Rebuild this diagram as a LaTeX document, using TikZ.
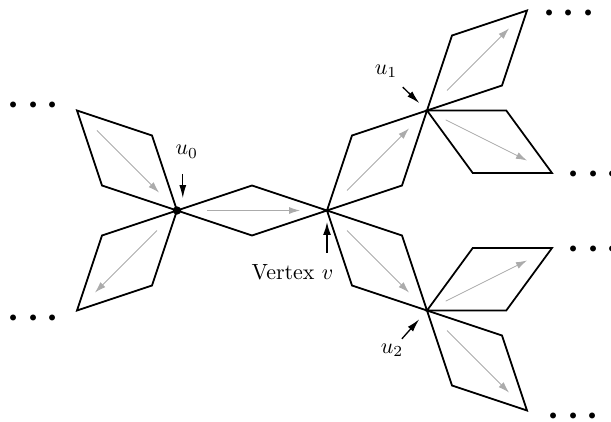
\documentclass[tikz,border=0pt]{standalone}
\usetikzlibrary{arrows.meta, calc, positioning}

\begin{document}
\begin{tikzpicture}[
    x=0.4cm, y=0.4cm,
    rhomb/.style={draw, thick},
    flow/.style={draw=black!33, -{Latex[length=5pt, width=3.2pt]}},
    pointer/.style={semithick, -{Latex[length=6pt, width=3.2pt]}},
    bigpointer/.style={line width=0.9pt, -{Latex[length=6pt, width=3.6pt]}},
    tag/.style={inner sep=1pt},
    etc/.style={anchor=base, yshift=-4.75pt, font=\fontsize{19}{19}\selectfont\boldmath}
]
    \useasboundingbox (-7.08,-8.42) rectangle (17.36,8.42);

    % ================= VERTICES =================
    \coordinate (u0) at (0,0);
    \coordinate (v) at (6,0);
    \coordinate (u1) at (10,4);
    \coordinate (u2) at (10,-4);

    % ================= RHOMBI =================
    \draw[rhomb] (u0) -- ++(-1,3) -- ++(-3,1) coordinate (p1) -- ++(1,-3) -- cycle;
    \draw[rhomb] (u0) -- ++(-3,-1) -- ++(-1,-3) coordinate (p2) -- ++(3,1) -- cycle;
    \draw[rhomb] (u0) -- ++(3,1) -- (v) -- ++(-3,-1) -- cycle;
    \draw[rhomb] (v) -- ++(1,3) -- (u1) -- ++(-1,-3) -- cycle;
    \draw[rhomb] (v) -- ++(3,-1) -- (u2) -- ++(-3,1) -- cycle;
    \draw[rhomb] (u1) -- ++(1,3) -- ++(3,1) coordinate (p3) -- ++(-1,-3) -- cycle;
    \draw[rhomb] (u1) -- ++(3.17,0) -- ++(1.83,-2.5) coordinate (p4) -- ++(-3.17,0) -- cycle;
    \draw[rhomb] (u2) -- ++(3.17,0) -- ++(1.83,2.5) coordinate (p5) -- ++(-3.17,0) -- cycle;
    \draw[rhomb] (u2) -- ++(3,-1) -- ++(1,-3) coordinate (p6) -- ++(-3,1) -- cycle;

    \fill (u0) circle (1.9pt);

    % ================= FLOW ARROWS =================
    \draw[flow] ($(p1)!0.2!(u0)$) -- ($(p1)!0.82!(u0)$);
    \draw[flow] ($(u0)!0.2!(p2)$) -- ($(u0)!0.82!(p2)$);
    \draw[flow] ($(u0)!0.2!(v)$) -- ($(u0)!0.82!(v)$);
    \draw[flow] ($(v)!0.2!(u1)$) -- ($(v)!0.82!(u1)$);
    \draw[flow] ($(v)!0.2!(u2)$) -- ($(v)!0.82!(u2)$);
    \draw[flow] ($(u1)!0.2!(p3)$) -- ($(u1)!0.82!(p3)$);
    \draw[flow] ($(u1)!0.15!(p4)$) -- ($(u1)!0.8!(p4)$);
    \draw[flow] ($(u2)!0.15!(p5)$) -- ($(u2)!0.8!(p5)$);
    \draw[flow] ($(u2)!0.2!(p6)$) -- ($(u2)!0.82!(p6)$);

    % ================= LABELS =================
    \node[tag] (lu0) at (0.39,2.35) {$u_0$};
    \node[tag] (lu1) at (8.36,5.58) {$u_1$};
    \node[tag] (lu2) at (8.6,-5.58) {$u_2$};
    \node[tag] (lv) at (4.62,-2.46) {Vertex $v$};

    \draw[pointer, shorten <=6pt, shorten >=5.6pt] ([xshift=-1.8pt]lu0.south) -- ([xshift=-1.8pt]lu0.south |- u0);
    \draw[pointer, shorten <=4.7pt, shorten >=4.8pt] (lu1) -- (u1);
    \draw[pointer, shorten <=1.3pt, shorten >=5.3pt] (lu2) -- (u2);
    \draw[bigpointer, shorten <=4.1pt, shorten >=5.1pt] (lv.north -| v) -- (v);

    % ================= CONTINUATIONS =================
    \node[etc] (e1) at (-5.75,4.26) {$\cdots$};
    \node[etc] (e2) at (-5.75,-4.25) {$\cdots$};
    \node[etc] (e3) at (15.68,7.95) {$\cdots$};
    \node[etc] (e4) at (16.65,1.49) {$\cdots$};
    \node[etc] (e5) at (16.65,-1.51) {$\cdots$};
    \node[etc] (e6) at (15.85,-8.18) {$\cdots$};

\end{tikzpicture}
\end{document}
